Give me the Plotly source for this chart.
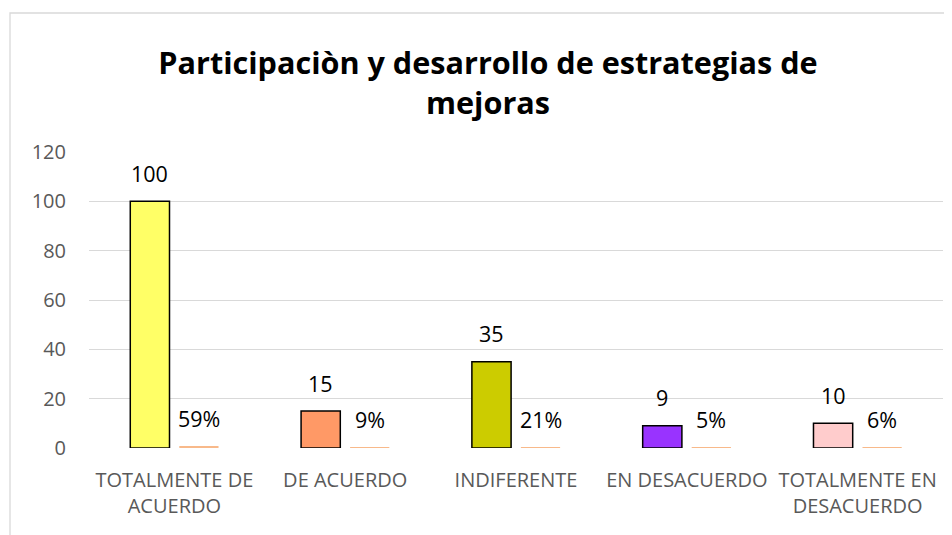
import plotly.graph_objects as go

categories = ["TOTALMENTE DE<br>ACUERDO", "DE ACUERDO", "INDIFERENTE", "EN DESACUERDO", "TOTALMENTE EN<br>DESACUERDO"]
counts = [100, 15, 35, 9, 10]
percents = [0.59, 0.09, 0.21, 0.05, 0.06]
count_colors = ["#FFFF66", "#FF9966", "#CCCC00", "#9933FF", "#FFCCCC"]
pct_color = "#F8B98A"
y_ticks = [0, 20, 40, 60, 80, 100, 120]
title_text = "Participaciòn y desarrollo de estrategias de<br>mejoras"

xpos = list(range(len(categories)))

# the page body adds an 8px margin, so the figure is sized 8px smaller
W, H = 944, 527
OFF = 8

fig = go.Figure()
fig.add_trace(go.Bar(x=xpos, y=counts, marker=dict(color=count_colors, line=dict(color="#000000", width=1.5)),
                     showlegend=False, hoverinfo="skip"))
fig.add_trace(go.Bar(x=xpos, y=percents, marker=dict(color=pct_color, line=dict(width=0)),
                     showlegend=False, hoverinfo="skip"))

ann = []
for i, (c, p) in enumerate(zip(counts, percents)):
    ann.append(dict(x=i, y=c, xref="x", yref="y", text=str(c), showarrow=False,
                    xshift=-24.5, yshift=28, yanchor="middle",
                    font=dict(family="Open Sans", size=21.5, color="#000000")))
    ann.append(dict(x=i, y=p, xref="x", yref="y", text=f"{round(p*100)}%", showarrow=False,
                    xshift=24.5, yshift=28, yanchor="middle",
                    font=dict(family="Open Sans", size=21.5, color="#000000")))

pl, pr, pt, pb = 89 - OFF, 9, 152 - OFF, 535 - 448 - OFF + 8
plot_w = W - pl - pr
plot_h = H - pt - pb

fig.update_layout(
    width=W, height=H,
    margin=dict(l=pl, r=pr, t=pt, b=pb),
    paper_bgcolor="white", plot_bgcolor="white",
    barmode="group", bargap=0.426, bargroupgap=0.2,
    title=dict(text=title_text, x=(488 - OFF) / W, xref="container", xanchor="center",
               y=1 - 66 / H, yref="container", yanchor="top",
               font=dict(family="Open Sans", size=30.6, color="#000000", weight="bold")),
    xaxis=dict(range=[-0.5, 4.5], tickvals=xpos, ticktext=categories, showgrid=False,
               zeroline=False, showline=False, ticks="", ticklabelstandoff=18,
               tickfont=dict(family="Open Sans", size=20, color="#595959")),
    yaxis=dict(range=[0, 120], tickvals=y_ticks, showgrid=True, gridcolor="#D9D9D9", gridwidth=1.3,
               zeroline=False, showline=False, ticks="", ticklabelstandoff=22,
               tickfont=dict(family="Open Sans", size=20, color="#595959")),
    annotations=ann,
    shapes=[dict(type="rect", xref="paper", yref="paper",
                 x0=(10 - 89) / plot_w, x1=1.2, y0=-0.6, y1=(448 - 13) / plot_h,
                 line=dict(color="#D9D9D9", width=1.3), fillcolor="rgba(0,0,0,0)", layer="below")],
)

fig.write_html("out.html")
